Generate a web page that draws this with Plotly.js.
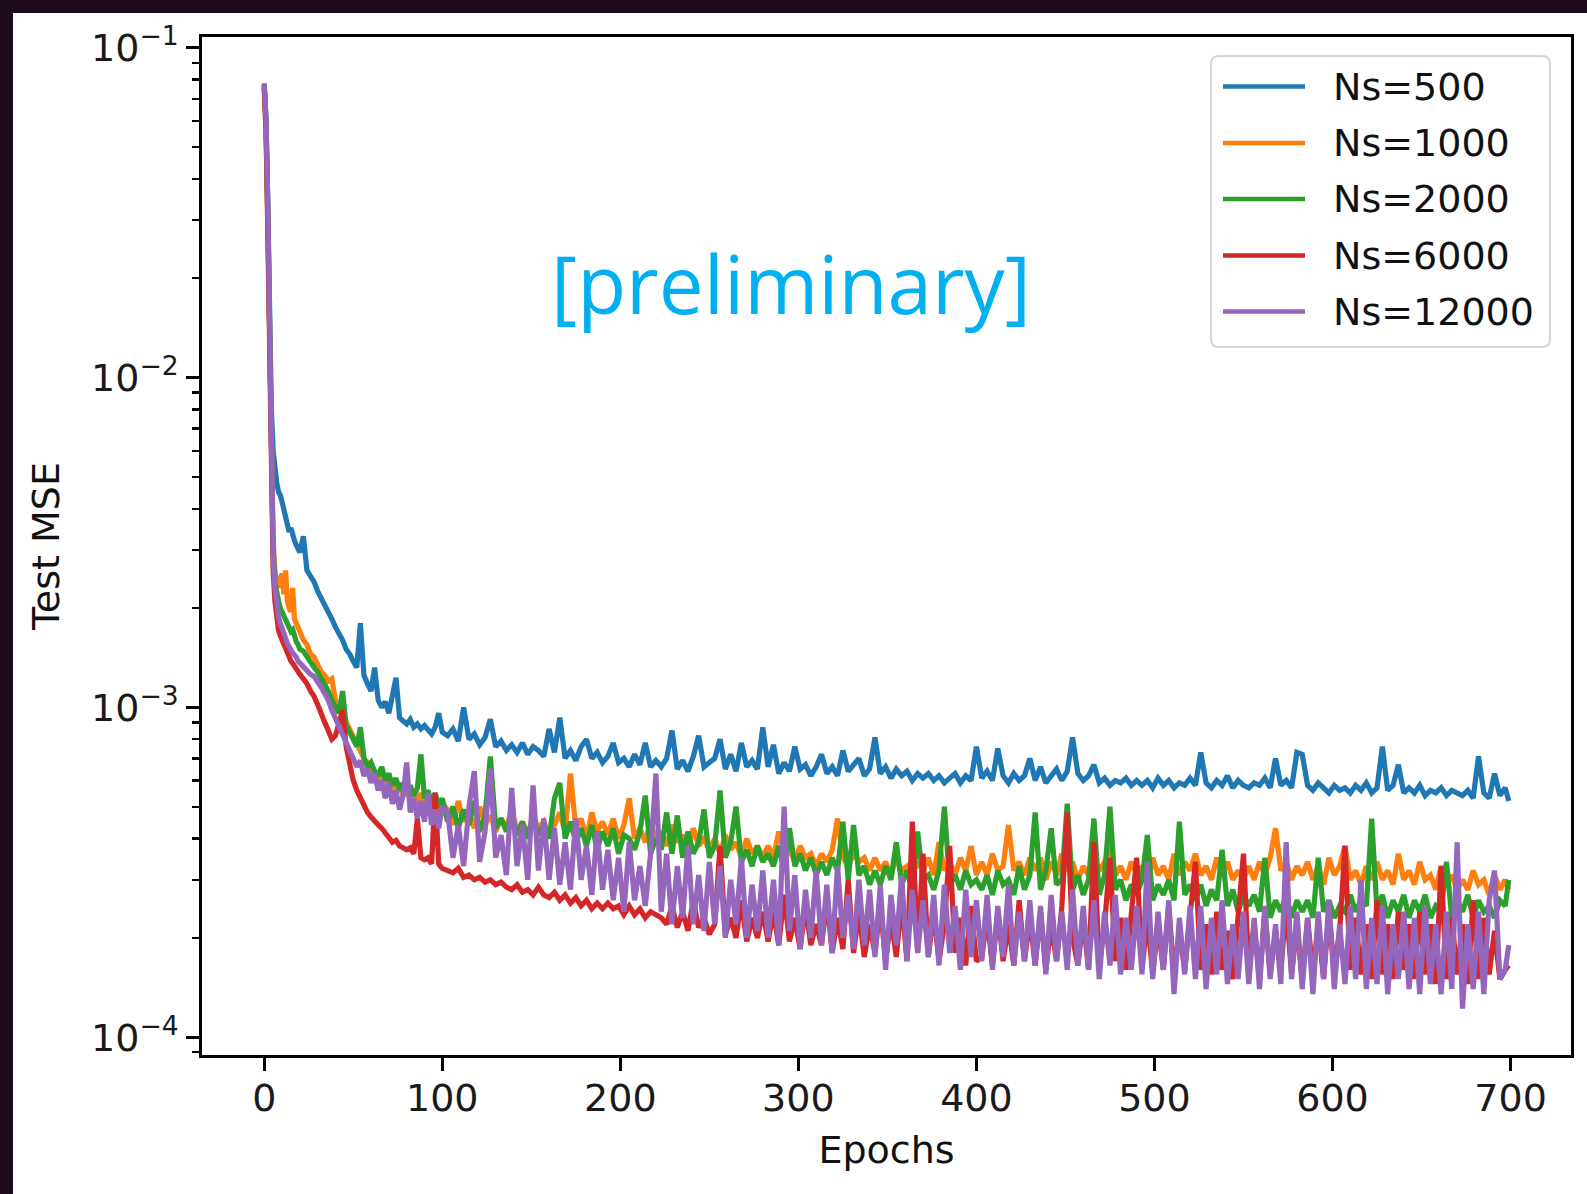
<!DOCTYPE html>
<html><head><meta charset="utf-8">
<script src="https://cdn.plot.ly/plotly-3.0.1.min.js"></script>
<style>
html,body{margin:0;padding:0;background:#1b0a17;width:1587px;height:1194px;overflow:hidden;}
#chart{position:absolute;left:13px;top:13px;width:1574px;height:1181px;background:#fff;}
</style></head><body><div id="chart"></div>
<script>
function range(a,b,s){const r=[];for(let v=a;v<=b;v+=s)r.push(v);return r;}
// epochs sampled: every epoch 0-20, every 2 to 100, every 3 to 697, then 699
const epochs = [].concat(range(0,20,1), range(22,100,2), range(103,697,3), [699]);

const seriesNames = ['Ns=500','Ns=1000','Ns=2000','Ns=6000','Ns=12000'];
const seriesColors = ['#1f77b4','#ff7f0e','#2ca02c','#d62728','#9467bd'];

const mse_Ns500 = [
7.7e-2,6.0e-2,3.4e-2,1.5e-2,8.0e-3,6.0e-3,5.2e-3,4.8e-3,4.5e-3,4.4e-3,4.2e-3,4.0e-3,3.8e-3,3.6e-3,3.4e-3,3.5e-3,3.3e-3,3.2e-3,3.1e-3,3.0e-3,2.95e-3,
3.3e-3,2.6e-3,2.5e-3,2.4e-3,2.25e-3,2.15e-3,2.05e-3,1.95e-3,1.85e-3,1.75e-3,
1.68e-3,1.6e-3,1.5e-3,1.45e-3,1.38e-3,1.32e-3,1.8e-3,1.25e-3,1.18e-3,1.12e-3,
1.32e-3,1.05e-3,1.0e-3,1.04e-3,9.6e-4,1.1e-3,1.23e-3,9.3e-4,9.1e-4,8.9e-4,
9.2e-4,8.7e-4,8.9e-4,8.6e-4,8.8e-4,8.5e-4,8.3e-4,8.7e-4,9.6e-4,8.4e-4,
8.2e-4,8.6e-4,7.9e-4,1.0e-3,8.0e-4,8.3e-4,7.7e-4,8.1e-4,9.2e-4,7.6e-4,
7.9e-4,7.4e-4,7.7e-4,7.3e-4,7.8e-4,7.2e-4,7.6e-4,7.4e-4,7.1e-4,8.6e-4,
7.3e-4,9.3e-4,7.0e-4,7.4e-4,6.9e-4,7.6e-4,8.0e-4,7.0e-4,7.3e-4,6.8e-4,
7.1e-4,7.8e-4,6.8e-4,7.0e-4,6.6e-4,7.2e-4,6.7e-4,7.8e-4,6.6e-4,6.9e-4,
6.6e-4,7.0e-4,8.5e-4,6.5e-4,6.9e-4,6.4e-4,7.1e-4,8.2e-4,6.6e-4,6.8e-4,
7.0e-4,8.0e-4,6.5e-4,7.2e-4,6.4e-4,7.8e-4,6.6e-4,6.9e-4,6.5e-4,8.7e-4,
6.6e-4,7.7e-4,6.3e-4,6.8e-4,6.4e-4,7.6e-4,6.5e-4,6.7e-4,6.2e-4,6.6e-4,
7.2e-4,6.3e-4,6.6e-4,6.2e-4,7.4e-4,6.4e-4,6.7e-4,7.0e-4,6.2e-4,6.5e-4,
8.1e-4,6.3e-4,6.6e-4,6.1e-4,6.5e-4,6.2e-4,6.4e-4,6.0e-4,6.3e-4,6.1e-4,
6.3e-4,6.0e-4,6.2e-4,5.9e-4,6.1e-4,6.3e-4,5.9e-4,6.2e-4,6.0e-4,7.6e-4,
6.1e-4,6.4e-4,6.0e-4,7.5e-4,6.2e-4,5.9e-4,6.3e-4,6.0e-4,6.2e-4,7.0e-4,
6.0e-4,6.6e-4,5.9e-4,6.2e-4,6.5e-4,6.0e-4,6.4e-4,8.1e-4,6.3e-4,6.0e-4,
6.2e-4,6.7e-4,5.9e-4,6.1e-4,5.8e-4,6.0e-4,5.9e-4,6.1e-4,5.8e-4,6.0e-4,
5.8e-4,6.0e-4,5.7e-4,6.1e-4,5.8e-4,6.0e-4,5.7e-4,5.9e-4,5.8e-4,6.1e-4,
5.8e-4,7.3e-4,5.9e-4,5.7e-4,6.0e-4,5.8e-4,6.2e-4,5.7e-4,6.0e-4,5.8e-4,
5.7e-4,5.9e-4,5.8e-4,6.1e-4,5.7e-4,7.0e-4,5.8e-4,6.0e-4,5.7e-4,7.3e-4,
7.2e-4,5.8e-4,5.6e-4,5.9e-4,5.7e-4,5.5e-4,5.8e-4,5.6e-4,5.7e-4,5.5e-4,
5.8e-4,5.6e-4,5.9e-4,5.5e-4,5.7e-4,7.6e-4,5.6e-4,5.8e-4,6.7e-4,5.5e-4,
5.7e-4,5.5e-4,5.8e-4,5.4e-4,5.6e-4,5.5e-4,5.7e-4,5.4e-4,5.6e-4,5.5e-4,
5.4e-4,5.6e-4,5.3e-4,7.1e-4,5.5e-4,5.3e-4,6.3e-4,5.4e-4,5.7e-4,
5.2e-4];

const mse_Ns1000 = [
7.6e-2,5.8e-2,3.0e-2,1.2e-2,5.0e-3,3.2e-3,2.6e-3,2.4e-3,2.5e-3,2.3e-3,2.55e-3,2.2e-3,2.6e-3,2.1e-3,2.0e-3,1.95e-3,2.3e-3,1.85e-3,1.8e-3,1.75e-3,1.7e-3,
1.6e-3,1.55e-3,1.45e-3,1.42e-3,1.35e-3,1.28e-3,1.25e-3,1.2e-3,1.22e-3,1.05e-3,
1.0e-3,9.5e-4,9.0e-4,8.6e-4,8.2e-4,7.8e-4,7.4e-4,7.0e-4,6.8e-4,6.6e-4,
6.2e-4,6.4e-4,5.9e-4,6.2e-4,5.7e-4,6.0e-4,5.5e-4,5.8e-4,5.4e-4,5.7e-4,
5.2e-4,5.6e-4,5.1e-4,5.5e-4,5.0e-4,5.4e-4,4.9e-4,5.3e-4,4.9e-4,5.1e-4,
4.9e-4,4.4e-4,5.2e-4,4.5e-4,4.8e-4,4.3e-4,5.0e-4,4.4e-4,4.7e-4,4.2e-4,
4.6e-4,4.3e-4,4.9e-4,4.2e-4,4.5e-4,4.1e-4,4.7e-4,4.3e-4,4.5e-4,4.1e-4,
4.4e-4,4.8e-4,4.2e-4,6.3e-4,4.3e-4,4.6e-4,4.0e-4,4.8e-4,4.2e-4,4.5e-4,
4.1e-4,4.6e-4,4.0e-4,4.4e-4,5.3e-4,4.0e-4,4.3e-4,3.9e-4,4.5e-4,3.9e-4,
4.2e-4,3.8e-4,4.4e-4,3.9e-4,4.1e-4,3.7e-4,4.3e-4,3.8e-4,4.0e-4,3.7e-4,
4.0e-4,3.6e-4,4.1e-4,3.7e-4,3.9e-4,3.5e-4,4.0e-4,3.6e-4,3.8e-4,3.5e-4,
3.8e-4,3.5e-4,4.2e-4,3.6e-4,3.7e-4,3.4e-4,3.8e-4,3.5e-4,3.6e-4,3.3e-4,
3.6e-4,3.4e-4,3.7e-4,4.6e-4,3.5e-4,3.3e-4,3.6e-4,3.4e-4,3.5e-4,3.2e-4,
3.5e-4,3.2e-4,3.4e-4,3.1e-4,3.5e-4,3.2e-4,3.3e-4,3.1e-4,3.4e-4,3.2e-4,
3.5e-4,3.1e-4,3.9e-4,3.2e-4,3.4e-4,3.1e-4,3.5e-4,3.2e-4,3.8e-4,3.1e-4,
3.4e-4,3.1e-4,3.6e-4,3.2e-4,3.3e-4,4.4e-4,3.2e-4,3.4e-4,3.1e-4,3.5e-4,
3.2e-4,3.5e-4,3.0e-4,3.4e-4,3.1e-4,3.6e-4,3.2e-4,3.4e-4,3.0e-4,3.3e-4,
3.1e-4,3.5e-4,3.2e-4,3.4e-4,3.8e-4,3.1e-4,3.3e-4,3.0e-4,3.4e-4,3.1e-4,
3.3e-4,3.0e-4,3.5e-4,3.1e-4,3.3e-4,3.0e-4,3.6e-4,3.1e-4,3.4e-4,3.2e-4,
3.6e-4,3.1e-4,3.3e-4,3.0e-4,3.5e-4,3.1e-4,3.4e-4,3.0e-4,3.2e-4,3.0e-4,
3.3e-4,3.0e-4,3.4e-4,3.1e-4,3.5e-4,4.3e-4,3.2e-4,3.4e-4,3.0e-4,3.3e-4,
3.1e-4,3.4e-4,3.0e-4,3.3e-4,2.9e-4,3.5e-4,3.1e-4,3.3e-4,3.8e-4,3.0e-4,
3.2e-4,2.9e-4,3.3e-4,3.0e-4,3.4e-4,3.0e-4,3.2e-4,2.9e-4,3.6e-4,3.0e-4,
3.2e-4,2.9e-4,3.4e-4,3.0e-4,3.1e-4,2.8e-4,3.3e-4,2.9e-4,3.1e-4,2.8e-4,
3.0e-4,2.8e-4,3.2e-4,2.9e-4,3.0e-4,2.7e-4,3.1e-4,2.8e-4,3.0e-4,
2.8e-4];

const mse_Ns2000 = [
7.7e-2,5.9e-2,3.1e-2,1.2e-2,4.8e-3,3.0e-3,2.4e-3,2.2e-3,2.1e-3,2.0e-3,1.95e-3,1.9e-3,1.85e-3,1.8e-3,1.75e-3,1.7e-3,1.72e-3,1.62e-3,1.58e-3,1.55e-3,1.5e-3,
1.48e-3,1.42e-3,1.38e-3,1.32e-3,1.28e-3,1.22e-3,1.18e-3,1.12e-3,1.05e-3,1.0e-3,
9.6e-4,1.12e-3,8.8e-4,8.4e-4,8.0e-4,7.6e-4,8.7e-4,7.0e-4,6.6e-4,6.8e-4,
6.4e-4,6.2e-4,6.6e-4,6.0e-4,6.3e-4,5.8e-4,6.1e-4,5.6e-4,5.9e-4,5.5e-4,
5.8e-4,5.4e-4,5.7e-4,7.2e-4,5.3e-4,5.6e-4,5.1e-4,5.5e-4,5.0e-4,5.3e-4,
4.5e-4,5.0e-4,4.3e-4,4.9e-4,4.4e-4,5.2e-4,4.2e-4,4.7e-4,7.1e-4,4.3e-4,
4.6e-4,4.2e-4,4.8e-4,4.1e-4,4.5e-4,4.0e-4,4.7e-4,4.1e-4,4.4e-4,4.0e-4,
5.3e-4,5.9e-4,4.0e-4,4.5e-4,3.9e-4,4.3e-4,3.8e-4,4.4e-4,3.7e-4,4.2e-4,
3.8e-4,4.3e-4,3.6e-4,4.1e-4,4.0e-4,3.7e-4,4.2e-4,5.4e-4,3.6e-4,4.0e-4,
3.7e-4,4.8e-4,3.6e-4,4.7e-4,3.5e-4,4.2e-4,3.6e-4,3.9e-4,4.9e-4,3.5e-4,
3.8e-4,5.6e-4,3.5e-4,3.9e-4,5.0e-4,3.4e-4,3.7e-4,3.3e-4,3.8e-4,3.4e-4,
3.6e-4,3.3e-4,3.8e-4,3.2e-4,4.3e-4,3.3e-4,3.6e-4,3.2e-4,3.5e-4,3.1e-4,
3.4e-4,3.1e-4,3.5e-4,3.2e-4,4.5e-4,3.0e-4,4.4e-4,3.1e-4,3.3e-4,2.9e-4,
3.2e-4,2.9e-4,3.3e-4,3.0e-4,3.9e-4,2.9e-4,3.2e-4,2.8e-4,4.2e-4,3.0e-4,
3.1e-4,2.8e-4,3.2e-4,5.0e-4,2.9e-4,3.1e-4,2.8e-4,3.2e-4,2.9e-4,3.0e-4,
2.8e-4,3.1e-4,2.7e-4,3.2e-4,2.9e-4,3.0e-4,2.7e-4,3.3e-4,2.8e-4,3.1e-4,
4.8e-4,2.8e-4,3.2e-4,4.3e-4,2.9e-4,3.0e-4,5.1e-4,2.8e-4,3.1e-4,2.7e-4,
3.0e-4,4.6e-4,2.7e-4,3.1e-4,5.0e-4,2.8e-4,3.0e-4,2.6e-4,2.9e-4,2.7e-4,
3.0e-4,4.1e-4,2.6e-4,2.9e-4,2.7e-4,3.0e-4,2.6e-4,4.5e-4,2.7e-4,2.9e-4,
2.6e-4,2.9e-4,2.5e-4,2.8e-4,2.6e-4,3.7e-4,2.5e-4,2.8e-4,2.4e-4,2.7e-4,
2.5e-4,2.7e-4,2.4e-4,3.5e-4,2.3e-4,2.6e-4,2.4e-4,2.7e-4,2.3e-4,2.6e-4,
2.4e-4,2.6e-4,2.3e-4,3.5e-4,2.4e-4,2.6e-4,2.3e-4,2.5e-4,2.4e-4,2.7e-4,
2.4e-4,2.6e-4,2.5e-4,4.6e-4,2.4e-4,2.7e-4,2.3e-4,2.6e-4,2.4e-4,2.7e-4,
2.3e-4,2.6e-4,2.4e-4,2.7e-4,2.3e-4,2.5e-4,2.4e-4,3.4e-4,2.3e-4,2.6e-4,
2.4e-4,2.7e-4,2.3e-4,2.6e-4,2.4e-4,2.5e-4,2.3e-4,2.6e-4,2.5e-4,
3.0e-4];

const mse_Ns6000 = [
7.5e-2,5.6e-2,2.8e-2,1.0e-2,4.0e-3,2.6e-3,2.1e-3,1.85e-3,1.72e-3,1.65e-3,1.6e-3,1.55e-3,1.5e-3,1.45e-3,1.42e-3,1.38e-3,1.36e-3,1.33e-3,1.3e-3,1.28e-3,1.26e-3,
1.22e-3,1.18e-3,1.12e-3,1.08e-3,1.02e-3,9.5e-4,9.0e-4,8.5e-4,8.0e-4,8.2e-4,
8.9e-4,9.8e-4,7.6e-4,6.6e-4,6.0e-4,5.6e-4,5.3e-4,5.0e-4,4.8e-4,4.65e-4,
4.5e-4,4.4e-4,4.3e-4,4.15e-4,4.0e-4,3.9e-4,3.95e-4,3.8e-4,3.75e-4,3.7e-4,
3.75e-4,3.6e-4,4.6e-4,3.5e-4,3.45e-4,3.5e-4,3.35e-4,5.5e-4,3.35e-4,3.25e-4,
3.2e-4,3.15e-4,3.25e-4,3.05e-4,3.1e-4,3.0e-4,3.05e-4,2.95e-4,3.0e-4,2.9e-4,
2.95e-4,2.85e-4,2.8e-4,2.9e-4,2.75e-4,2.8e-4,2.7e-4,2.85e-4,2.7e-4,2.65e-4,
2.75e-4,2.6e-4,2.7e-4,2.55e-4,2.65e-4,2.5e-4,2.6e-4,2.45e-4,2.55e-4,2.45e-4,
2.55e-4,2.45e-4,2.5e-4,2.35e-4,2.5e-4,2.35e-4,2.45e-4,2.3e-4,2.4e-4,2.35e-4,
2.3e-4,2.2e-4,2.5e-4,2.15e-4,2.4e-4,2.1e-4,2.6e-4,2.15e-4,2.3e-4,2.05e-4,
2.2e-4,3.8e-4,2.05e-4,2.3e-4,2.0e-4,2.6e-4,1.95e-4,2.3e-4,2.0e-4,2.4e-4,
1.95e-4,2.4e-4,1.9e-4,2.7e-4,1.95e-4,2.3e-4,1.85e-4,2.5e-4,1.9e-4,2.2e-4,
1.9e-4,2.6e-4,1.8e-4,2.3e-4,1.85e-4,3.0e-4,1.8e-4,2.4e-4,1.75e-4,2.2e-4,
1.8e-4,2.5e-4,1.7e-4,2.3e-4,1.75e-4,2.6e-4,1.7e-4,4.5e-4,1.8e-4,3.6e-4,
1.75e-4,2.4e-4,1.7e-4,2.2e-4,3.8e-4,1.8e-4,2.3e-4,1.65e-4,2.5e-4,1.7e-4,
1.75e-4,2.3e-4,1.65e-4,2.4e-4,1.7e-4,2.2e-4,1.65e-4,2.6e-4,1.7e-4,2.3e-4,
1.65e-4,2.4e-4,1.6e-4,2.2e-4,1.7e-4,2.5e-4,4.8e-4,2.0e-4,1.65e-4,2.3e-4,
1.6e-4,3.9e-4,1.65e-4,2.2e-4,3.5e-4,1.7e-4,2.3e-4,1.6e-4,2.4e-4,3.5e-4,
1.6e-4,2.3e-4,1.55e-4,2.2e-4,1.6e-4,2.5e-4,1.55e-4,2.1e-4,1.6e-4,2.4e-4,
3.4e-4,1.6e-4,2.2e-4,1.55e-4,2.4e-4,1.6e-4,2.1e-4,1.5e-4,2.3e-4,3.6e-4,
1.6e-4,2.2e-4,1.5e-4,2.4e-4,1.55e-4,2.1e-4,1.6e-4,2.5e-4,1.55e-4,2.2e-4,
1.5e-4,2.3e-4,1.55e-4,2.2e-4,1.5e-4,2.4e-4,1.6e-4,2.1e-4,3.8e-4,1.6e-4,
2.3e-4,1.55e-4,2.2e-4,1.5e-4,2.6e-4,1.55e-4,2.2e-4,1.5e-4,2.4e-4,1.6e-4,
2.2e-4,1.5e-4,2.4e-4,1.55e-4,2.2e-4,1.45e-4,3.3e-4,1.5e-4,2.3e-4,1.55e-4,
2.2e-4,1.45e-4,2.6e-4,1.5e-4,2.3e-4,1.55e-4,2.1e-4,1.5e-4,1.6e-4,
1.65e-4];

const mse_Ns12000 = [
7.8e-2,6.1e-2,3.4e-2,1.3e-2,4.6e-3,2.9e-3,2.3e-3,2.0e-3,1.88e-3,1.8e-3,1.72e-3,1.66e-3,1.62e-3,1.56e-3,1.52e-3,1.5e-3,1.46e-3,1.44e-3,1.42e-3,1.38e-3,1.36e-3,
1.32e-3,1.3e-3,1.26e-3,1.24e-3,1.2e-3,1.15e-3,1.1e-3,1.05e-3,9.8e-4,9.3e-4,
8.7e-4,8.3e-4,7.8e-4,7.4e-4,7.0e-4,6.6e-4,6.9e-4,6.2e-4,6.5e-4,5.9e-4,
6.3e-4,5.6e-4,6.0e-4,5.3e-4,5.9e-4,5.1e-4,5.6e-4,4.9e-4,5.4e-4,6.8e-4,
4.8e-4,5.3e-4,4.6e-4,5.2e-4,4.5e-4,5.5e-4,4.4e-4,4.9e-4,4.3e-4,5.0e-4,
4.8e-4,3.5e-4,4.4e-4,3.3e-4,5.0e-4,6.4e-4,3.4e-4,4.2e-4,6.5e-4,3.5e-4,
4.1e-4,3.1e-4,5.7e-4,3.3e-4,4.4e-4,3.0e-4,5.8e-4,3.2e-4,4.6e-4,3.0e-4,
4.3e-4,2.9e-4,3.9e-4,2.8e-4,4.6e-4,3.0e-4,3.8e-4,2.7e-4,4.2e-4,2.8e-4,
3.7e-4,2.6e-4,3.5e-4,2.4e-4,3.9e-4,2.6e-4,3.3e-4,2.5e-4,3.6e-4,6.3e-4,
2.4e-4,3.6e-4,2.2e-4,3.3e-4,2.3e-4,3.8e-4,2.2e-4,3.1e-4,2.1e-4,3.4e-4,
2.2e-4,3.3e-4,2.0e-4,3.0e-4,2.2e-4,3.5e-4,2.0e-4,2.9e-4,2.1e-4,3.2e-4,
2.0e-4,3.0e-4,1.9e-4,5.0e-4,2.1e-4,3.1e-4,1.85e-4,2.8e-4,2.0e-4,3.2e-4,
1.9e-4,2.9e-4,1.8e-4,3.3e-4,2.0e-4,2.7e-4,1.85e-4,3.0e-4,1.9e-4,2.8e-4,
1.75e-4,2.9e-4,1.6e-4,2.7e-4,1.9e-4,3.1e-4,1.7e-4,2.8e-4,1.8e-4,2.6e-4,
1.75e-4,2.7e-4,1.65e-4,2.9e-4,1.8e-4,2.5e-4,1.6e-4,2.8e-4,1.75e-4,2.6e-4,
1.7e-4,2.7e-4,1.6e-4,2.5e-4,1.75e-4,2.9e-4,1.65e-4,2.4e-4,1.7e-4,2.6e-4,
1.65e-4,2.5e-4,1.55e-4,2.7e-4,1.7e-4,2.4e-4,1.6e-4,2.8e-4,1.65e-4,2.5e-4,
1.6e-4,2.6e-4,1.5e-4,2.4e-4,1.65e-4,2.7e-4,1.55e-4,2.3e-4,1.6e-4,2.5e-4,
1.55e-4,3.4e-4,1.5e-4,2.4e-4,1.6e-4,2.6e-4,1.35e-4,2.3e-4,1.55e-4,2.5e-4,
1.5e-4,2.5e-4,1.4e-4,2.3e-4,1.55e-4,2.6e-4,1.45e-4,2.2e-4,1.5e-4,2.4e-4,
1.45e-4,2.3e-4,1.4e-4,2.5e-4,1.5e-4,2.2e-4,1.45e-4,3.9e-4,1.5e-4,2.4e-4,
1.4e-4,2.3e-4,1.35e-4,2.4e-4,1.5e-4,2.6e-4,1.4e-4,2.2e-4,1.45e-4,2.5e-4,
1.5e-4,3.0e-4,1.4e-4,2.3e-4,1.45e-4,2.5e-4,1.35e-4,2.2e-4,1.5e-4,2.4e-4,
1.4e-4,2.3e-4,1.35e-4,2.5e-4,1.45e-4,2.2e-4,1.35e-4,2.4e-4,1.4e-4,3.9e-4,
1.22e-4,2.2e-4,1.4e-4,2.4e-4,1.35e-4,2.6e-4,3.2e-4,1.5e-4,1.6e-4,
1.9e-4];

const seriesValues = [mse_Ns500, mse_Ns1000, mse_Ns2000, mse_Ns6000, mse_Ns12000];

const xTickVals = [0,100,200,300,400,500,600,700];
const yTickVals = [1e-4,1e-3,1e-2,1e-1];
const yTickText = ['10<sup>\u22124</sup>','10<sup>\u22123</sup>','10<sup>\u22122</sup>','10<sup>\u22121</sup>'];
const yMinorVals = [9e-5,2e-4,3e-4,4e-4,5e-4,6e-4,7e-4,8e-4,9e-4,2e-3,3e-3,4e-3,5e-3,6e-3,7e-3,8e-3,9e-3,2e-2,3e-2,4e-2,5e-2,6e-2,7e-2,8e-2,9e-2];

seriesValues.forEach((v,i)=>{ if (v.length !== epochs.length) throw new Error(seriesNames[i]+' length '+v.length+' vs '+epochs.length); });

const traces = seriesValues.map((v,i)=>({
  type:'scatter', mode:'lines', x:epochs, y:v, name:seriesNames[i],
  line:{color:seriesColors[i], width:5.2, shape:'linear'}, hoverinfo:'skip'
}));

// geometry of plot area (for placing the hand-drawn legend, in page pixels)
const DIV_X = 13, DIV_Y = 13, W = 1574, H = 1181;
const M = {l:189, r:16, t:24, b:139};
const PW = W - M.l - M.r, PH = H - M.t - M.b;
const px = x => (x - DIV_X - M.l) / PW;
const py = y => 1 - (y - DIV_Y - M.t) / PH;

const shapes = [];
const annotations = [];
(function(){
  const x0 = px(1211), x1 = px(1550), yT = py(56), yB = py(347);
  const rx = 8/PW, ry = 8/PH;
  const d = `M${x0+rx},${yT} L${x1-rx},${yT} Q${x1},${yT} ${x1},${yT-ry} L${x1},${yB+ry} Q${x1},${yB} ${x1-rx},${yB} L${x0+rx},${yB} Q${x0},${yB} ${x0},${yB+ry} L${x0},${yT-ry} Q${x0},${yT} ${x0+rx},${yT} Z`;
  shapes.push({type:'path', xref:'paper', yref:'paper', path:d, fillcolor:'rgba(255,255,255,0.85)', line:{color:'#d6d6d6', width:2}, layer:'above'});
  const rowsY = [86.5, 143, 199, 255.5, 311.5];
  seriesNames.forEach((n,i)=>{
    shapes.push({type:'line', xref:'paper', yref:'paper', x0:px(1223), x1:px(1305), y0:py(rowsY[i]), y1:py(rowsY[i]), line:{color:seriesColors[i], width:4.5}, layer:'above'});
    annotations.push({xref:'paper', yref:'paper', x:px(1331), y:py(rowsY[i]), xanchor:'left', yanchor:'middle', text:n, showarrow:false, font:{family:'DejaVu Sans', size:38, color:'#111'}});
  });
})();

annotations.push({xref:'paper', yref:'paper', x:px(791), y:py(282), xanchor:'center', yanchor:'middle', text:'[preliminary]', showarrow:false, font:{family:'Open Sans', size:80, color:'#00b0f0'}});

const axisCommon = {
  ticks:'outside', ticklen:13, tickwidth:2.8, tickcolor:'#000',
  showline:true, linecolor:'#000', linewidth:2.8, mirror:true,
  showgrid:false, zeroline:false, automargin:false,
  tickfont:{family:'DejaVu Sans', size:38, color:'#1a1a1a'}
};

const layout = {
  width:W, height:H, margin:M,
  paper_bgcolor:'#ffffff', plot_bgcolor:'#ffffff',
  showlegend:false,
  font:{family:'DejaVu Sans', color:'#111'},
  xaxis:Object.assign({}, axisCommon, {
    range:[-34.95, 733.95], tickmode:'array', tickvals:xTickVals, ticklabelstandoff:-5,
    title:{text:'Epochs', font:{family:'DejaVu Sans', size:38, color:'#111'}, standoff:17}
  }),
  yaxis:Object.assign({}, axisCommon, {
    type:'log', range:[-4.054, -0.968], tickmode:'array', tickvals:yTickVals, ticktext:yTickText,
    minor:{tickmode:'array', tickvals:yMinorVals, ticks:'outside', ticklen:7.5, tickwidth:2.2, tickcolor:'#000', showgrid:false},
    title:{text:'Test MSE', font:{family:'DejaVu Sans', size:38, color:'#111'}, standoff:20}
  }),
  shapes:shapes, annotations:annotations
};

Plotly.newPlot('chart', traces, layout, {staticPlot:true, displayModeBar:false});
</script></body></html>
